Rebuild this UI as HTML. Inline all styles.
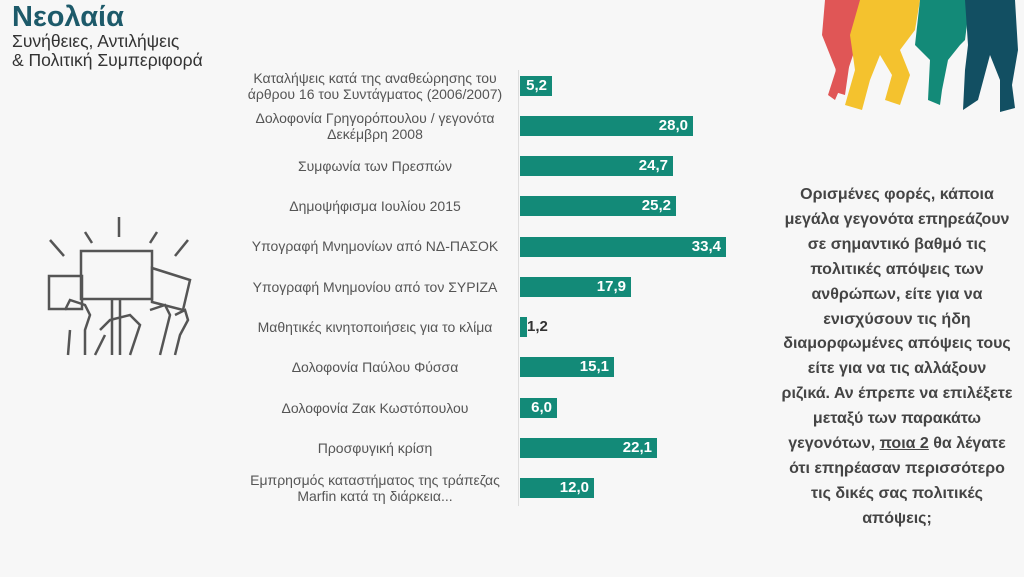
<!DOCTYPE html>
<html><head><meta charset="utf-8"><style>
body{margin:0;width:1024px;height:577px;background:#f7f7f7;position:relative;overflow:hidden;font-family:"Liberation Sans","DejaVu Sans",sans-serif}
.a{position:absolute}
.lab{position:absolute;right:514px;width:270px;text-align:center;font-size:14px;line-height:16px;color:#555;white-space:nowrap}
.bar{position:absolute;left:520px;height:20px;background:#138a78;color:#fff;font-size:15px;font-weight:bold;line-height:20px;text-align:right;box-sizing:border-box;padding-right:5px}
</style></head><body>
<div class="a" style="left:12px;top:1px;font-size:29px;font-weight:bold;color:#1d5a6a">Νεολαία</div>
<div class="a" style="left:12px;top:32px;font-size:17.5px;line-height:19px;color:#333">Συνήθειες, Αντιλήψεις<br>&amp; Πολιτική Συμπεριφορά</div>

<svg class="a" style="left:800px;top:0" width="224" height="120">
<path d="M25,0 L60,0 L58,40 L48,70 L35,100 L28,95 L36,70 L22,35 Z" fill="#e05656"/>
<path d="M38,0 L62,0 L50,60 L45,95 L35,92 Z" fill="#e05656"/>
<path d="M60,0 L120,0 L115,30 L100,50 L110,75 L100,105 L85,100 L92,75 L80,55 L70,80 L62,110 L45,105 L55,70 L50,35 Z" fill="#f4c22e"/>
<path d="M120,0 L170,0 L165,40 L160,45 L148,60 L142,90 L140,105 L128,100 L130,60 L115,45 Z" fill="#138a78"/>
<path d="M165,0 L215,0 L218,50 L212,85 L215,108 L200,112 L200,80 L190,55 L178,100 L163,110 L165,70 L168,45 Z" fill="#124f62"/>
</svg>

<svg class="a" style="left:40px;top:210px" width="160" height="150" fill="none" stroke="#555" stroke-width="2.5">
<line x1="79" y1="7" x2="79" y2="27"/><line x1="45" y1="22" x2="52" y2="33"/><line x1="110" y1="33" x2="117" y2="22"/><line x1="10" y1="30" x2="24" y2="46"/><line x1="135" y1="46" x2="148" y2="30"/>
<rect x="41" y="41" width="71" height="48"/><rect x="9" y="66" width="33" height="33"/><polygon points="112,58 150,70 143,100 112,92"/>
<path d="M72,89 V145 M80,89 V145 M25,100 L30,90 L45,95 L50,105 L45,120 L45,145 M30,120 L28,145 M60,120 L70,110 L90,105 L100,115 L95,130 L90,145 M110,100 L125,95 L130,105 L125,125 L120,145 M135,105 L145,100 L148,110 L140,125 L135,145 M55,145 L65,125"/>
</svg>

<div class="a" style="left:518px;top:70px;width:1px;height:436px;background:#ddd"></div>

<div class="lab" style="top:70px">Καταλήψεις κατά της αναθεώρησης του<br>άρθρου 16 του Συντάγματος (2006/2007)</div>
<div class="bar" style="top:76px;width:32px">5,2</div>
<div class="lab" style="top:110px">Δολοφονία Γρηγορόπουλου / γεγονότα<br>Δεκέμβρη 2008</div>
<div class="bar" style="top:116px;width:173px">28,0</div>
<div class="lab" style="top:158px">Συμφωνία των Πρεσπών</div>
<div class="bar" style="top:156px;width:153px">24,7</div>
<div class="lab" style="top:198px">Δημοψήφισμα Ιουλίου 2015</div>
<div class="bar" style="top:196px;width:156px">25,2</div>
<div class="lab" style="top:238px">Υπογραφή Μνημονίων από ΝΔ-ΠΑΣΟΚ</div>
<div class="bar" style="top:237px;width:206px">33,4</div>
<div class="lab" style="top:279px">Υπογραφή Μνημονίου από τον ΣΥΡΙΖΑ</div>
<div class="bar" style="top:277px;width:111px">17,9</div>
<div class="lab" style="top:319px">Μαθητικές κινητοποιήσεις για το κλίμα</div>
<div class="bar" style="top:317px;width:7px"></div>
<div class="a" style="left:527px;top:317px;font-size:15px;font-weight:bold;line-height:20px;color:#333">1,2</div>
<div class="lab" style="top:359px">Δολοφονία Παύλου Φύσσα</div>
<div class="bar" style="top:357px;width:94px">15,1</div>
<div class="lab" style="top:400px">Δολοφονία Ζακ Κωστόπουλου</div>
<div class="bar" style="top:398px;width:37px">6,0</div>
<div class="lab" style="top:440px">Προσφυγική κρίση</div>
<div class="bar" style="top:438px;width:137px">22,1</div>
<div class="lab" style="top:472px">Εμπρησμός καταστήματος της τράπεζας<br>Marfin κατά τη διάρκεια...</div>
<div class="bar" style="top:478px;width:74px">12,0</div>

<div class="a" style="left:766px;top:183px;width:262px;text-align:center;font-size:16px;font-weight:bold;line-height:24.9px;color:#444;white-space:nowrap">Ορισμένες φορές, κάποια<br>μεγάλα γεγονότα επηρεάζουν<br>σε σημαντικό βαθμό τις<br>πολιτικές απόψεις των<br>ανθρώπων, είτε για να<br>ενισχύσουν τις ήδη<br>διαμορφωμένες απόψεις τους<br>είτε για να τις αλλάξουν<br>ριζικά. Αν έπρεπε να επιλέξετε<br>μεταξύ των παρακάτω<br>γεγονότων, <u>ποια 2</u> θα λέγατε<br>ότι επηρέασαν περισσότερο<br>τις δικές σας πολιτικές<br>απόψεις;</div>
</body></html>
